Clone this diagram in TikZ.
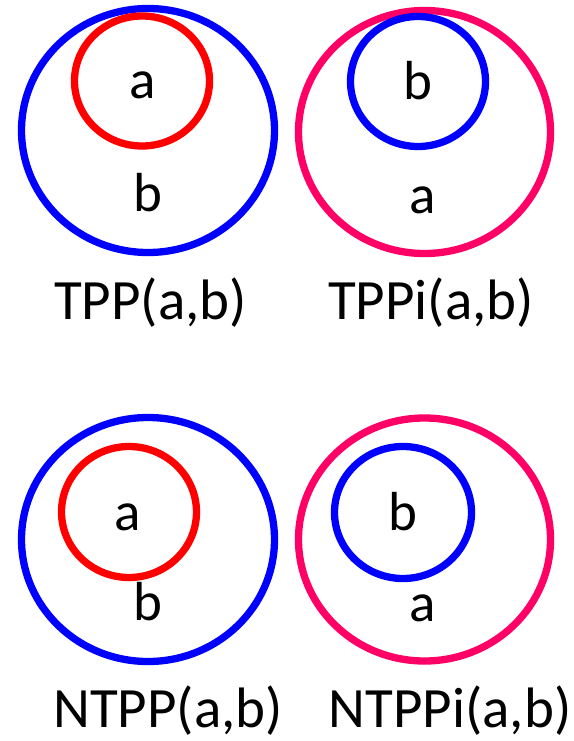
\documentclass[tikz,border=0pt]{standalone}
\usepackage{fontspec}
\setmainfont{Carlito}
\usetikzlibrary{shapes.geometric}
\definecolor{rblue}{HTML}{0000FF}
\definecolor{rred}{HTML}{FF0000}
\definecolor{rpink}{HTML}{FF0066}
\tikzset{
  ring/.style={ellipse, draw, line width=7.3pt, inner sep=0pt},
  letter/.style={anchor=base, inner sep=0pt, font=\fontsize{55}{60}\selectfont},
  caption/.style={anchor=base, inner sep=0pt, font=\fontsize{57}{62}\selectfont},
}
\begin{document}
\begin{tikzpicture}[x=1pt, y=-1pt]
\useasboundingbox (0,0) rectangle (573,741);
% TPP
\node[ring, rblue, minimum width=253pt, minimum height=244pt] (o1) at (148,130.5) {};
\node[ring, rred, minimum width=135pt, minimum height=130pt] (i1) at (142,81) {};
\node[letter] (a1) at (143,99) {a};
\node[letter] (b1) at (148,211.5) {b};
\node[caption] (c1) at (150.5,319.5) {TPP(a,b)};
% TPPi
\node[ring, rpink, minimum width=252pt, minimum height=243pt] (o2) at (424.5,132) {};
\node[ring, rblue, minimum width=135pt, minimum height=130pt] (i2) at (418,81.5) {};
\node[letter] (b2) at (418,100) {b};
\node[letter] (a2) at (423,213) {a};
\node[caption] (c2) at (431,319.5) {TPPi(a,b)};
% NTPP
\node[ring, rblue, minimum width=253pt, minimum height=244pt] (o3) at (148,539.5) {};
\node[ring, rred, minimum width=135pt, minimum height=131pt] (i3) at (129,512) {};
\node[letter] (a3) at (128,530) {a};
\node[letter] (b3) at (148,620.5) {b};
\node[caption] (c3) at (168,727) {NTPP(a,b)};
% NTPPi
\node[ring, rpink, minimum width=252pt, minimum height=243pt] (o4) at (424.5,539.5) {};
\node[ring, rblue, minimum width=137pt, minimum height=132pt] (i4) at (403,512.5) {};
\node[letter] (b4) at (403,530) {b};
\node[letter] (a4) at (423,621.5) {a};
\node[caption] (c4) at (450,727) {NTPPi(a,b)};
\end{tikzpicture}
\end{document}
